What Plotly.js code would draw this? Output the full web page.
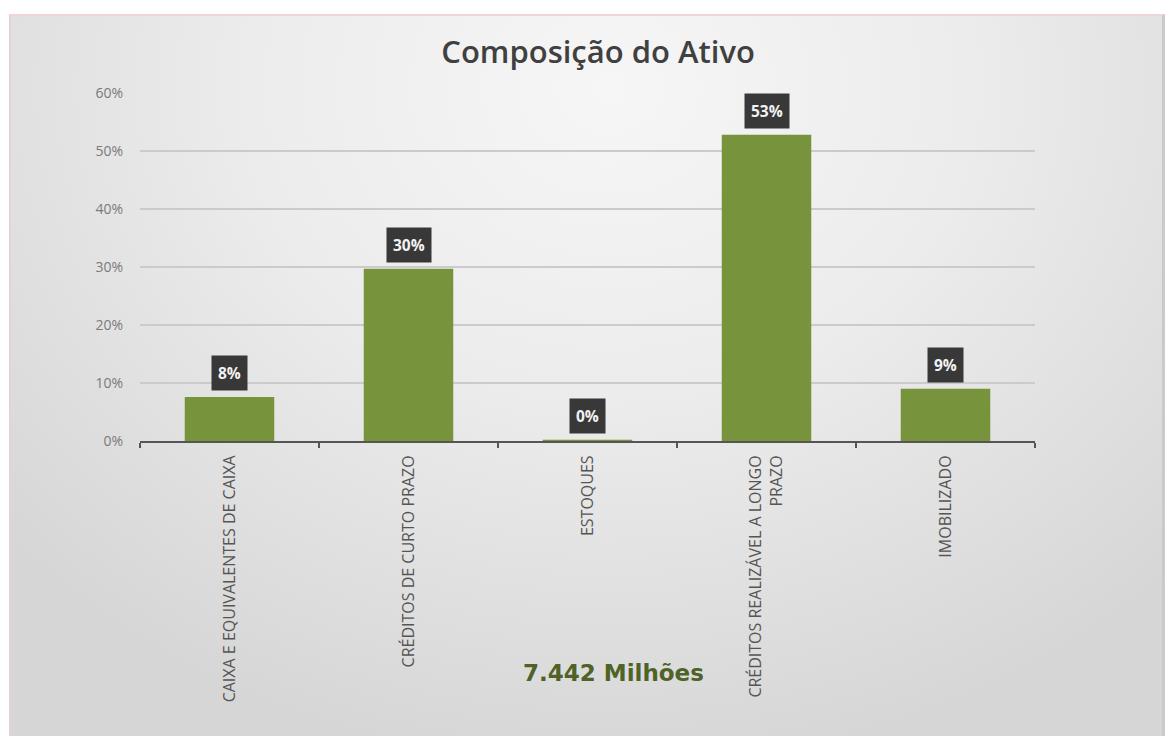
<!DOCTYPE html>
<html>
<head>
<meta charset="utf-8">
<script src="https://cdn.plot.ly/plotly-3.0.1.min.js"></script>
<style>
  html, body { margin: 0; padding: 0; background: #ffffff; }
  #wrap { position: relative; width: 1175px; height: 736px; overflow: hidden; }
  #panel {
    position: absolute; left: 9px; top: 14px; width: 1156px; height: 722px;
    background: radial-gradient(ellipse 70% 95% at 52% 10%, #f6f6f6 0%, #ececec 45%, #dedede 80%, #d6d6d6 100%);
    border-top: 2px solid #ecd6d6; border-left: 2px solid #e6d2d2; border-right: 3px solid #cfc8c8;
    box-sizing: border-box;
  }
  #chart { position: absolute; left: 0; top: 0; width: 1175px; height: 736px; }
</style>
</head>
<body>
<div id="wrap">
  <div id="panel"></div>
  <div id="chart"></div>
</div>
<script>
const categories = [
  "CAIXA E EQUIVALENTES DE CAIXA",
  "CRÉDITOS DE CURTO PRAZO",
  "ESTOQUES",
  "CRÉDITOS REALIZÁVEL A LONGO<br>PRAZO",
  "IMOBILIZADO"
];
const values = [7.6, 29.7, 0.2, 52.8, 9.0];
const valueLabels = ["8%", "30%", "0%", "53%", "9%"];
const yTickVals = [0, 10, 20, 30, 40, 50, 60];
const yTickText = ["0%", "10%", "20%", "30%", "40%", "50%", "60%"];
const chartTitle = "Composição do Ativo";
const footNote = "7.442 Milhões";

const trace = {
  type: "bar",
  x: categories,
  y: values,
  marker: { color: "#77933c" },
  width: 0.5,
  hoverinfo: "skip"
};

const labelAnns = categories.map((c, i) => ({
  x: c, y: values[i], xref: "x", yref: "y",
  text: "<b>" + valueLabels[i] + "</b>",
  showarrow: false, yanchor: "bottom", yshift: 6,
  bgcolor: "#383838", borderpad: 6,
  font: { family: "Open Sans, Arial, sans-serif", size: 15.5, color: "#f2f2f2" }
}));

const layout = {
  width: 1175, height: 736,
  paper_bgcolor: "rgba(0,0,0,0)",
  plot_bgcolor: "rgba(0,0,0,0)",
  margin: { l: 140, r: 140, t: 93, b: 295 },
  showlegend: false,
  bargap: 0.5,
  title: {
    text: chartTitle,
    x: 0.509, xanchor: "center",
    y: 0.929, yref: "container", yanchor: "middle",
    font: { family: "Open Sans, Arial, sans-serif", size: 31, color: "#404040", weight: 600 }
  },
  xaxis: {
    type: "category",
    tickangle: -90,
    tickson: "boundaries",
    ticks: "outside", ticklen: 5, tickwidth: 1.5, tickcolor: "#555555",
    showline: true, linecolor: "#555555", linewidth: 2,
    showgrid: false,
    ticklabelstandoff: 6,
    tickfont: { family: "Open Sans, Arial, sans-serif", size: 16, color: "#555555" }
  },
  yaxis: {
    range: [0, 60],
    tickvals: yTickVals, ticktext: yTickText,
    showgrid: true, gridcolor: "#cbcbcb", gridwidth: 1.5,
    zeroline: false, showline: false,
    ticks: "", ticklabelstandoff: 16,
    tickfont: { family: "Open Sans, Arial, sans-serif", size: 14, color: "#7a7a7a" }
  },
  annotations: labelAnns.concat([{
    text: "<b>" + footNote + "</b>",
    xref: "paper", yref: "paper", x: 0.5285, y: -0.667,
    xanchor: "center", yanchor: "middle", showarrow: false,
    font: { family: "DejaVu Sans, Verdana, sans-serif", size: 23, color: "#4f6228" }
  }])
};

Plotly.newPlot("chart", [trace], layout, { displayModeBar: false, staticPlot: true });
</script>
</body>
</html>
